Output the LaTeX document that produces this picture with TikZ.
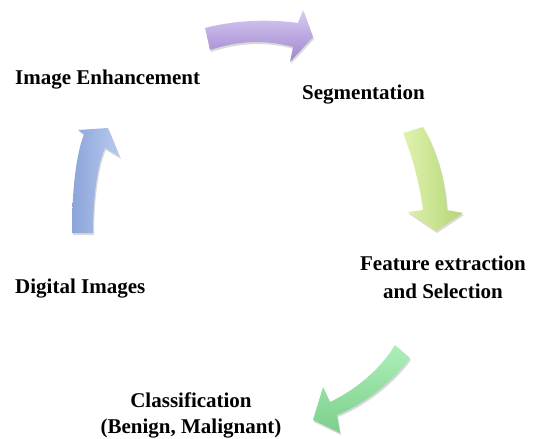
\documentclass[tikz,border=0pt]{standalone}
\usepackage{fontspec}
\setmainfont{Liberation Serif}
\usetikzlibrary{shadows}
\definecolor{lavlight}{HTML}{D8CDF1}
\definecolor{lavmid}{HTML}{BCA8E1}
\definecolor{lavdark}{HTML}{9E88CB}
\definecolor{bluelight}{HTML}{B8CAEE}
\definecolor{bluedark}{HTML}{8CA5D9}
\definecolor{limelight}{HTML}{E0F2AE}
\definecolor{limedark}{HTML}{B4D676}
\definecolor{greenlight}{HTML}{ACEFB8}
\definecolor{greendark}{HTML}{7DCF8D}

\begin{document}
\begin{tikzpicture}[x=1pt, y=-1pt,
		blockarrow/.style={draw=none, drop shadow={opacity=0.3, shadow xshift=1pt, shadow yshift=-2pt}},
		stagetext/.style={font=\fontsize{21}{27}\selectfont\bfseries, inner sep=0pt, align=center}]
		\useasboundingbox (0, 0) rectangle (534, 438);
		%箭头
		\path[blockarrow, top color=lavlight, bottom color=lavdark, middle color=lavmid]
			(205, 28) .. controls (235, 20) and (270, 19) .. (298, 23)
			-- (303, 10) -- (313, 37) -- (290, 62) -- (293, 47)
			.. controls (268, 40) and (240, 40) .. (210, 50) -- cycle;
		\path[blockarrow, left color=bluedark, right color=bluelight]
			(72, 233) .. controls (72, 190) and (76, 155) .. (84, 134)
			-- (78, 130) -- (108, 128) -- (120, 157) -- (105, 148)
			.. controls (97, 165) and (93, 200) .. (93, 233) -- cycle;
		\path[blockarrow, left color=limelight, right color=limedark]
			(403, 133) .. controls (412, 155) and (420, 185) .. (423, 210)
			-- (408, 212) -- (436, 231) -- (463, 213) -- (447, 210)
			.. controls (445, 180) and (437, 150) .. (423, 127) -- cycle;
		\path[blockarrow, top color=greenlight, bottom color=greendark]
			(395, 345) .. controls (380, 370) and (355, 390) .. (330, 402)
			-- (323, 387) -- (313, 420) -- (340, 433) -- (337, 415)
			.. controls (362, 405) and (390, 385) .. (410, 358) -- cycle;
		%文字
		\node[stagetext, anchor=base west] (enhance) at (15, 85) {Image Enhancement};
		\node[stagetext, anchor=base west] (segment) at (302, 100) {Segmentation};
		\node[stagetext, anchor=base west] (digital) at (15, 293) {Digital Images};
		\node[stagetext, font=\fontsize{21}{28}\selectfont\bfseries] (feature) at (443, 277) {Feature extraction\\and Selection};
		\node[stagetext, font=\fontsize{21}{26}\selectfont\bfseries] (classify) at (191, 415) {Classification\\(Benign, Malignant)};
	\end{tikzpicture}
\end{document}
